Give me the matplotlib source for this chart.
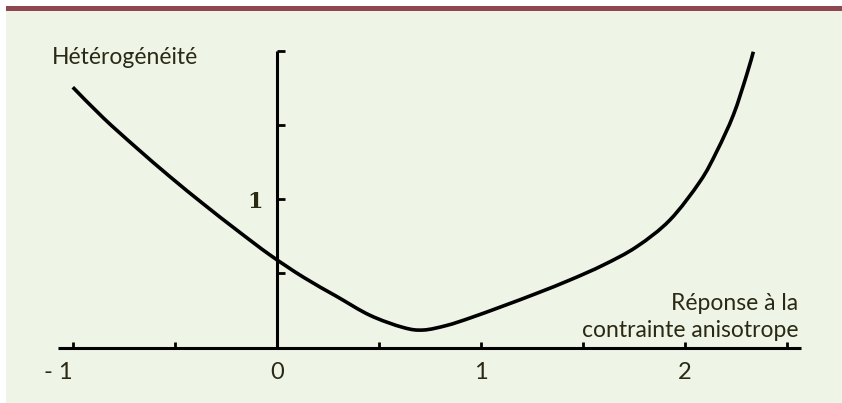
import matplotlib
matplotlib.use("Agg")
import matplotlib.pyplot as plt
from matplotlib.patches import Rectangle, PathPatch
from matplotlib.path import Path
import numpy as np

# Data
curve_x = [-1.001, -0.851, -0.688, -0.525, -0.361, -0.198, -0.034, 0.129, 0.293, 0.456,
           0.619, 0.717, 0.832, 0.946, 1.109, 1.273, 1.436, 1.600, 1.763, 1.926,
           2.074, 2.155, 2.237, 2.302, 2.335]
curve_y = [1.754, 1.547, 1.345, 1.152, 0.968, 0.793, 0.624, 0.475, 0.345, 0.218,
           0.136, 0.119, 0.150, 0.200, 0.281, 0.366, 0.456, 0.557, 0.680, 0.860,
           1.120, 1.320, 1.567, 1.836, 1.993]
x_ticks = [-1, -0.5, 0, 0.5, 1, 1.5, 2, 2.5]
x_tick_labels = ["- 1", "", "0", "", "1", "", "2", ""]
y_ticks = [0.5, 1, 1.5, 2]
y_tick_labels = ["", "1", "", ""]
y_label = "Hétérogénéité"
x_label = "Réponse à la\ncontrainte anisotrope"

W, H = 842, 403
BG = "#EEF4E6"
BAR = "#8E4651"
TXT = "#2A2914"

fig = plt.figure(figsize=(W / 100, H / 100), dpi=100, facecolor="white")
fig.patches.append(Rectangle((6 / W, 0), 1 - 6 / W, (H - 11) / H, transform=fig.transFigure,
                             facecolor=BG, edgecolor="none", zorder=-5))
fig.patches.append(Rectangle((6 / W, (H - 11) / H), 1 - 6 / W, 5 / H, transform=fig.transFigure,
                             facecolor=BAR, edgecolor="none", zorder=-5))

ax = fig.add_axes([0, 0, 1, 1])
ax.set_zorder(5)
ax.set_facecolor("none")
px_x, px_y = 204.0, 148.5
x0, y0 = 277.0, 347.7
ax.set_xlim(-x0 / px_x, (W - x0) / px_x)
ax.set_ylim(-(H - y0) / px_y, y0 / px_y)

# Smooth curve through the read points (Catmull-Rom -> cubic Bezier path)
P = np.column_stack([curve_x, curve_y])
verts = [P[0]]
codes = [Path.MOVETO]
n = len(P)
for i in range(n - 1):
    p0 = P[i - 1] if i > 0 else P[i]
    p1, p2 = P[i], P[i + 1]
    p3 = P[i + 2] if i + 2 < n else P[i + 1]
    c1 = p1 + (p2 - p0) / 6.0
    c2 = p2 - (p3 - p1) / 6.0
    verts += [c1, c2, p2]
    codes += [Path.CURVE4] * 3
ax.add_patch(PathPatch(Path(verts, codes), facecolor="none", edgecolor="black",
                       lw=2.6, capstyle="butt", zorder=3))

for s in ["top", "right"]:
    ax.spines[s].set_visible(False)
ax.spines["left"].set_position(("data", 0))
ax.spines["bottom"].set_position(("data", 0))
ax.spines["left"].set_bounds(0, 2.0)
ax.spines["bottom"].set_bounds(-1.074, 2.569)
for s in ["left", "bottom"]:
    ax.spines[s].set_linewidth(2.2)
    ax.spines[s].set_color("black")
    ax.spines[s].set_capstyle("butt")

ax.set_xticks(x_ticks)
ax.set_xticklabels(x_tick_labels)
ax.set_yticks(y_ticks)
ax.set_yticklabels(y_tick_labels)
ax.tick_params(axis="x", direction="in", length=4.5, width=2.0, color="black",
               pad=10, labelsize=17, labelcolor=TXT)
ax.tick_params(axis="y", direction="in", length=5.5, width=2.0, color="black",
               pad=10, labelsize=16, labelcolor=TXT)
for lab in ax.get_xticklabels():
    lab.set_fontfamily("Lato")
for lab in ax.get_yticklabels():
    lab.set_fontfamily("DejaVu Serif")
    lab.set_fontweight("bold")
    lab.set_y(1.06)
# shift "- 1" so that the digit sits under its tick
lbl = ax.get_xticklabels()[0]
lbl.set_horizontalalignment("right")
lbl.set_x(-1 + 4 / px_x)

ax.text((52 - x0) / px_x, (y0 - 58) / px_y, y_label, fontsize=16.5, family="Lato",
        color=TXT, ha="left", va="center")
ax.text((798 - x0) / px_x, (y0 - 317) / px_y, x_label, fontsize=16.5, family="Lato",
        color=TXT, ha="right", va="center", linespacing=1.3, multialignment="right")

fig.savefig("out.png", dpi=100, facecolor="white")
